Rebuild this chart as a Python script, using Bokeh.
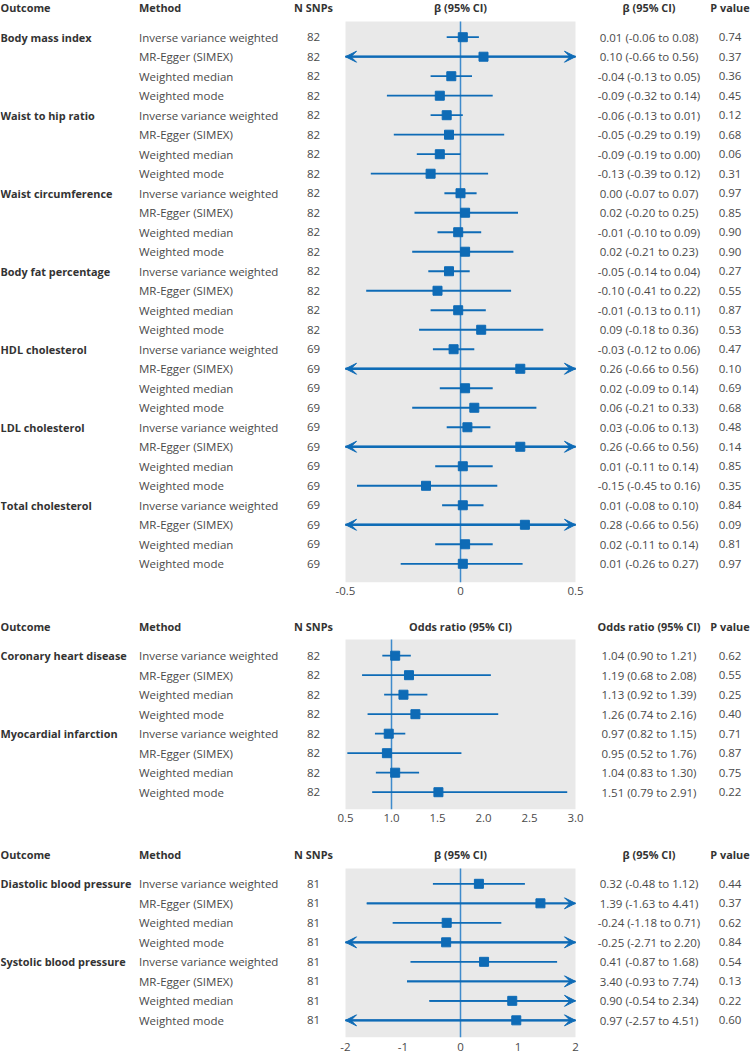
from bokeh.plotting import figure
from bokeh.models import (ColumnDataSource, Range1d, LabelSet, Label, BoxAnnotation,
                          Arrow, VeeHead, FixedTicker, LinearAxis)
from bokeh.layouts import column
from bokeh.core.properties import value
from bokeh.embed import file_html
from bokeh.resources import INLINE

# ---------------- data ----------------
methods = ["Inverse variance weighted", "MR-Egger (SIMEX)", "Weighted median", "Weighted mode"]

outcomes1 = ["Body mass index", "Waist to hip ratio", "Waist circumference",
             "Body fat percentage", "HDL cholesterol", "LDL cholesterol", "Total cholesterol"]
nsnp1 = [82, 82, 82, 82, 82, 82, 82, 82, 82, 82, 82, 82, 82, 82, 82, 82,
         69, 69, 69, 69, 69, 69, 69, 69, 69, 69, 69, 69]
est1 = [0.01, 0.10, -0.04, -0.09, -0.06, -0.05, -0.09, -0.13, 0.00, 0.02, -0.01, 0.02,
        -0.05, -0.10, -0.01, 0.09, -0.03, 0.26, 0.02, 0.06, 0.03, 0.26, 0.01, -0.15,
        0.01, 0.28, 0.02, 0.01]
lo1 = [-0.06, -0.66, -0.13, -0.32, -0.13, -0.29, -0.19, -0.39, -0.07, -0.20, -0.10, -0.21,
       -0.14, -0.41, -0.13, -0.18, -0.12, -0.66, -0.09, -0.21, -0.06, -0.66, -0.11, -0.45,
       -0.08, -0.66, -0.11, -0.26]
hi1 = [0.08, 0.56, 0.05, 0.14, 0.01, 0.19, 0.00, 0.12, 0.07, 0.25, 0.09, 0.23,
       0.04, 0.22, 0.11, 0.36, 0.06, 0.56, 0.14, 0.33, 0.13, 0.56, 0.14, 0.16,
       0.10, 0.56, 0.14, 0.27]
pval1 = [0.74, 0.37, 0.36, 0.45, 0.12, 0.68, 0.06, 0.31, 0.97, 0.85, 0.90, 0.90,
         0.27, 0.55, 0.87, 0.53, 0.47, 0.10, 0.69, 0.68, 0.48, 0.14, 0.85, 0.35,
         0.84, 0.09, 0.81, 0.97]
ticks1 = [-0.5, 0, 0.5]
tick_labels1 = ["-0.5", "0", "0.5"]

outcomes2 = ["Coronary heart disease", "Myocardial infarction"]
nsnp2 = [82, 82, 82, 82, 82, 82, 82, 82]
est2 = [1.04, 1.19, 1.13, 1.26, 0.97, 0.95, 1.04, 1.51]
lo2 = [0.90, 0.68, 0.92, 0.74, 0.82, 0.52, 0.83, 0.79]
hi2 = [1.21, 2.08, 1.39, 2.16, 1.15, 1.76, 1.30, 2.91]
pval2 = [0.62, 0.55, 0.25, 0.40, 0.71, 0.87, 0.75, 0.22]
ticks2 = [0.5, 1.0, 1.5, 2.0, 2.5, 3.0]
tick_labels2 = ["0.5", "1.0", "1.5", "2.0", "2.5", "3.0"]

outcomes3 = ["Diastolic blood pressure", "Systolic blood pressure"]
nsnp3 = [81, 81, 81, 81, 81, 81, 81, 81]
est3 = [0.32, 1.39, -0.24, -0.25, 0.41, 3.40, 0.90, 0.97]
lo3 = [-0.48, -1.63, -1.18, -2.71, -0.87, -0.93, -0.54, -2.57]
hi3 = [1.12, 4.41, 0.71, 2.20, 1.68, 7.74, 2.34, 4.51]
pval3 = [0.44, 0.37, 0.62, 0.84, 0.54, 0.13, 0.22, 0.60]
ticks3 = [-2, -1, 0, 1, 2]
tick_labels3 = ["-2", "-1", "0", "1", "2"]

# ---------------- style ----------------
BLUE = "#0e6bb6"
REF_BLUE = "#3f8bcc"
BG = "#e9e9e9"
TXT = "#4a4a4a"
HDR = "#333333"
FONT = "Open Sans"
FS = "11.5px"
FSB = "10.9px"

W = 750
PLOT_L, PLOT_R = 345, 575          # pixel extent of the grey plotting box
X_OUT, X_METH, X_N, X_CI, X_P = 0, 138.5, 313, 648.5, 729.5


def make_panel(outcomes, nsnp, est, lo, hi, pv, xlim, ref, ticks, tick_labels,
               header, height, bbot, ytop, ygrey, ybot, standoff):
    n = len(est)
    ys = list(range(1, n + 1))
    p = figure(width=W, height=height, x_range=Range1d(0, W),
               y_range=Range1d(ybot, ytop), output_backend="svg",
               toolbar_location=None, min_border_left=0, min_border_right=0,
               min_border_top=0, min_border_bottom=bbot, y_axis_location=None,
               x_axis_location=None, background_fill_color="white",
               border_fill_color="white", outline_line_color=None)
    # data scale for the forest plot, mapped onto the grey box
    span = xlim[1] - xlim[0]
    unit = span / (PLOT_R - PLOT_L)
    p.extra_x_ranges = {"data": Range1d(xlim[0] - PLOT_L * unit,
                                        xlim[1] + (W - PLOT_R) * unit)}
    p.xgrid.grid_line_color = None
    p.ygrid.grid_line_color = None

    ax = LinearAxis(x_range_name="data")
    ax.ticker = FixedTicker(ticks=ticks)
    ax.major_label_overrides = {t: l for t, l in zip(ticks, tick_labels)}
    ax.axis_line_color = None
    ax.major_tick_line_color = None
    ax.minor_tick_line_color = None
    ax.major_tick_in = 0
    ax.major_tick_out = 0
    ax.major_label_standoff = standoff
    ax.major_label_text_font = FONT
    ax.major_label_text_font_size = FS
    ax.major_label_text_color = TXT
    p.add_layout(ax, "below")

    p.add_layout(BoxAnnotation(left=xlim[0], right=xlim[1], top=ygrey, bottom=ybot,
                               x_range_name="data", fill_color=BG, fill_alpha=1,
                               line_color=None, level="underlay"))

    p.segment(x0=[ref], x1=[ref], y0=[ygrey], y1=[ybot], x_range_name="data",
              line_color=REF_BLUE, line_width=1.5)

    x0 = [max(v, xlim[0]) for v in lo]
    x1 = [min(v, xlim[1]) for v in hi]
    out_col = []
    for o in outcomes:
        out_col += [o] + [""] * (len(methods) - 1)
    meth_col = methods * len(outcomes)
    src = ColumnDataSource(dict(
        y=ys, x0=x0, x1=x1, outcome=out_col, method=meth_col,
        n=[str(v) for v in nsnp],
        ci=[f"{e:.2f} ({a:.2f} to {b:.2f})" for e, a, b in zip(est, lo, hi)],
        pv=[f"{v:.2f}" for v in pv]))

    p.segment(x0="x0", y0="y", x1="x1", y1="y", source=src, x_range_name="data",
              line_color=BLUE, line_width=1.8)

    pts = [(y, e) for y, e in zip(ys, est) if xlim[0] <= e <= xlim[1]]
    psrc = ColumnDataSource(dict(y=[q[0] for q in pts], est=[q[1] for q in pts]))
    p.scatter(x="est", y="y", source=psrc, marker="square", size=9,
              x_range_name="data", fill_color=BLUE, line_color=BLUE)

    left = [(y, b) for y, a, b in zip(ys, lo, x1) if a < xlim[0]]
    right = [(y, a) for y, a, b in zip(ys, x0, hi) if b > xlim[1]]
    for rows, lim in ((left, xlim[0]), (right, xlim[1])):
        if rows:
            s = ColumnDataSource(dict(y=[r[0] for r in rows], xs=[r[1] for r in rows],
                                      xe=[lim] * len(rows)))
            p.add_layout(Arrow(x_start="xs", y_start="y", x_end="xe", y_end="y",
                               source=s, x_range_name="data",
                               line_color=BLUE, line_width=1.8,
                               end=VeeHead(size=11, fill_color=BLUE,
                                           line_color=BLUE)))

    common = dict(y="y", source=src, text_baseline="middle",
                  text_font=value(FONT))
    p.add_layout(LabelSet(x=X_OUT, text="outcome", text_align="left",
                          text_font_style="bold", text_color=HDR,
                          text_font_size=value(FSB), **common))
    p.add_layout(LabelSet(x=X_METH, text="method", text_align="left",
                          text_color=TXT, text_font_size=value(FS), **common))
    p.add_layout(LabelSet(x=X_N, text="n", text_align="center",
                          text_color=TXT, text_font_size=value(FS), **common))
    p.add_layout(LabelSet(x=X_CI, text="ci", text_align="center",
                          text_color=TXT, text_font_size=value(FS), **common))
    p.add_layout(LabelSet(x=X_P, text="pv", text_align="center",
                          text_color=TXT, text_font_size=value(FS), **common))

    hy = -0.5
    heads = [("Outcome", X_OUT, "left"), ("Method", X_METH, "left"),
             ("N SNPs", X_N, "center"), (header, (PLOT_L + PLOT_R) / 2, "center"),
             (header, X_CI, "center"), ("P value", X_P, "center")]
    for t, x, al in heads:
        p.add_layout(Label(x=x, y=hy, text=t, text_align=al,
                           text_baseline="middle", text_font=FONT, text_font_size=FSB,
                           text_font_style="bold", text_color=HDR))
    return p


p1 = make_panel(outcomes1, nsnp1, est1, lo1, hi1, pval1, (-0.5, 0.5), 0, ticks1,
                tick_labels1, "β (95% CI)", 610, 28, -0.882, 0.195, 28.96, 4)
p2 = make_panel(outcomes2, nsnp2, est2, lo2, hi2, pval2, (0.5, 3.0), 1.0, ticks2,
                tick_labels2, "Odds ratio (95% CI)", 225, 26, -1.318, 0.169, 8.887, 4)
p3 = make_panel(outcomes3, nsnp3, est3, lo3, hi3, pval3, (-2, 2), 0, ticks3,
                tick_labels3, "β (95% CI)", 219, 17, -1.477, 0.215, 8.88, 5)

layout = column(p1, p2, p3, spacing=0)

open("out.html", "w").write(file_html(layout, INLINE))
